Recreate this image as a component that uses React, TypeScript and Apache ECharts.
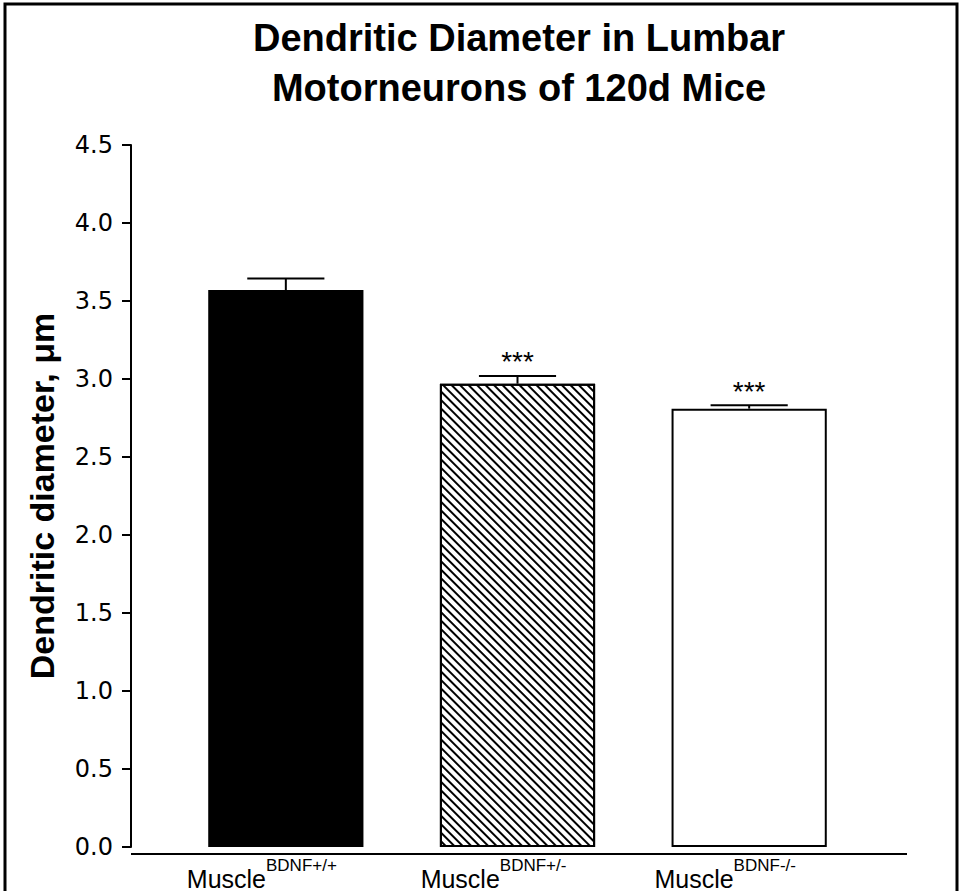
import React, { useEffect, useRef } from "react";
import * as echarts from "echarts";

const titleLines = ["Dendritic Diameter in Lumbar", "Motorneurons of 120d Mice"];
const yAxisTitle = "Dendritic diameter, \u03bcm";
const categoryBase = "Muscle";
const genotypes = ["BDNF+/+", "BDNF+/-", "BDNF-/-"];
const means = [3.57, 2.97, 2.81];
const sems = [0.075, 0.05, 0.022];
const significance = ["", "***", "***"];
const yMin = 0;
const yMax = 4.5;
const yStep = 0.5;

export default function App() {
  const ref = useRef<HTMLDivElement>(null);
  useEffect(() => {
    if (!ref.current) return;
    const chart = echarts.init(ref.current, null, { renderer: "svg" });
    const gridTop = 145;
    const gridBottomY = 854;
    const axisX = 131;
    const gridLeft = 170;
    const gridRight = 96;

    const barData = means.map((v, i) => {
      const base: any = { value: v };
      if (i === 0) {
        base.itemStyle = { color: "#000", borderColor: "#000", borderWidth: 2 };
      } else if (i === 1) {
        base.itemStyle = {
          color: "#fff",
          borderColor: "#000",
          borderWidth: 2,
          decal: {
            symbol: "rect",
            symbolSize: 1,
            dashArrayX: [1, 0],
            dashArrayY: [1.2, 4],
            rotation: Math.PI / 4,
            color: "#000",
          },
        };
      } else {
        base.itemStyle = { color: "#fff", borderColor: "#000", borderWidth: 2 };
      }
      return base;
    });

    const errData = means.map((v, i) => [i, v, sems[i], significance[i]]);

    chart.setOption({
      animation: false,
      backgroundColor: "#fff",
      title: {
        text: titleLines.join("\n"),
        left: 519,
        top: 13,
        textAlign: "center",
        padding: 0,
        textStyle: {
          fontFamily: "Liberation Sans, Arial, sans-serif",
          fontWeight: "bold",
          fontSize: 38,
          lineHeight: 50,
          color: "#000",
        },
      },
      grid: {
        left: gridLeft,
        right: gridRight,
        top: gridTop,
        bottom: 891 - gridBottomY,
        containLabel: false,
      },
      xAxis: {
        type: "category",
        data: genotypes,
        axisLine: { show: false },
        axisTick: { show: false },
        axisLabel: {
          margin: 0,
          interval: 0,
          padding: [0, 48, 0, 0],
          formatter: (g: string) => `{a|${categoryBase}}{b|${g}}`,
          rich: {
            a: {
              fontFamily: "Liberation Sans, Arial, sans-serif",
              fontSize: 25,
              lineHeight: 44,
              color: "#000",
              verticalAlign: "bottom",
            },
            b: {
              fontFamily: "Liberation Sans, Arial, sans-serif",
              fontSize: 17,
              lineHeight: 20,
              color: "#000",
              verticalAlign: "top",
              padding: [10, 0, 0, 0],
            },
          },
        },
      },
      yAxis: {
        type: "value",
        min: yMin,
        max: yMax,
        interval: yStep,
        offset: gridLeft - axisX,
        name: yAxisTitle,
        nameLocation: "middle",
        nameRotate: 90,
        nameGap: 72,
        nameTextStyle: {
          fontFamily: "Liberation Sans, Arial, sans-serif",
          fontWeight: "bold",
          fontSize: 34,
          color: "#000",
        },
        splitLine: { show: false },
        axisLine: { show: true, lineStyle: { color: "#000", width: 2 } },
        axisTick: { show: true, inside: false, length: 9, lineStyle: { color: "#000", width: 2 } },
        axisLabel: {
          margin: 18,
          fontFamily: "DejaVu Sans, sans-serif",
          fontSize: 24,
          color: "#000",
          formatter: (v: number) => v.toFixed(1),
        },
      },
      graphic: [
        {
          type: "line",
          shape: { x1: axisX, y1: gridBottomY, x2: 907, y2: gridBottomY },
          style: { stroke: "#000", lineWidth: 2 },
          z: 10,
        },
        {
          type: "rect",
          shape: { x: 5, y: 4, width: 952, height: 960 },
          style: { fill: "none", stroke: "#000", lineWidth: 3 },
          z: 10,
        },
      ],
      series: [
        {
          type: "bar",
          data: barData,
          barWidth: "67%",
          z: 2,
        },
        {
          type: "custom",
          data: errData,
          z: 3,
          renderItem: (params: any, api: any) => {
            const idx = api.value(0);
            const m = api.value(1);
            const e = api.value(2);
            const sig = significance[params.dataIndex];
            const p0 = api.coord([idx, m]);
            const p1 = api.coord([idx, m + e]);
            const half = (api.size([1, 0])[0] * 0.333) / 2;
            const children: any[] = [
              {
                type: "line",
                shape: { x1: p0[0], y1: p0[1], x2: p1[0], y2: p1[1] },
                style: { stroke: "#000", lineWidth: 2 },
              },
              {
                type: "line",
                shape: { x1: p1[0] - half, y1: p1[1], x2: p1[0] + half, y2: p1[1] },
                style: { stroke: "#000", lineWidth: 2 },
              },
            ];
            if (sig) {
              children.push({
                type: "text",
                style: {
                  text: sig,
                  x: p1[0],
                  y: p1[1],
                  align: "center",
                  verticalAlign: "bottom",
                  fontFamily: "Liberation Sans, Arial, sans-serif",
                  fontSize: 28,
                  fill: "#000",
                },
              });
            }
            return { type: "group", children };
          },
        },
      ],
    });
    return () => chart.dispose();
  }, []);
  return (
    <div
      ref={ref}
      style={{ position: "fixed", left: 0, top: 0, width: 961, height: 891 }}
    />
  );
}
